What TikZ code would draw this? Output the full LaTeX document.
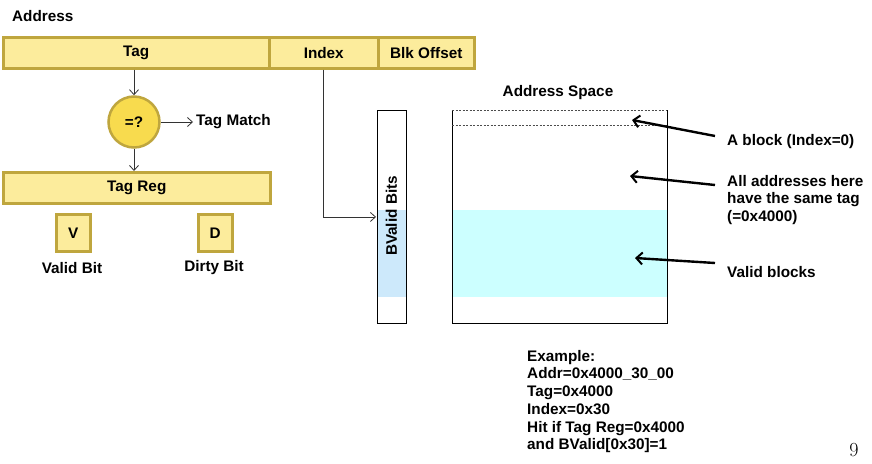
\documentclass[tikz,border=0pt]{standalone}
\usepackage{fontspec}
\setsansfont{Liberation Sans}
\usetikzlibrary{arrows.meta}
\definecolor{barfill}{HTML}{FCEC9C}
\definecolor{barline}{HTML}{BFA63E}
\definecolor{cmpfill}{HTML}{F8DB4E}
\definecolor{bvblue}{HTML}{CDE9FB}
\definecolor{validcyan}{HTML}{CCFFFF}
\tikzset{
  lbl/.style={font=\sffamily\bfseries\fontsize{15.3}{17.7}\selectfont, inner sep=0pt},
  bar/.style={lbl, draw=barline, fill=barfill, line width=2.5pt, anchor=north west},
  bitbox/.style={bar, minimum width=34pt, minimum height=37pt},
  thinarrow/.style={draw=black!80, line width=0.8pt, -{Straight Barb[length=5pt,width=9pt]}},
  pointer/.style={line width=2.4pt, -{Straight Barb[length=6pt,width=12pt,line width=2pt]}},
  plain/.style={draw=black, line width=0.9pt}
}
\begin{document}
\begin{tikzpicture}[x=1pt,y=-1pt]
\useasboundingbox (0,0) rectangle (872,463);

% address fields
\node[lbl, anchor=west] (addr) at (12,16) {Address};
\node[bar, minimum width=266pt, minimum height=31pt] (tag) at (2,36) {Tag};
\node[bar, minimum width=109pt, minimum height=31pt] (index) at (268,36) {Index};
\node[bar, minimum width=96pt, minimum height=31pt] (blk) at (377,36) {Blk Offset};

% comparator and tag register
\node[lbl, circle, draw=barline, fill=cmpfill, line width=2.5pt, minimum size=51pt] (cmp) at (134,122) {=?};
\node[lbl, anchor=west] (match) at (196,122) {Tag Match};
\node[bar, minimum width=267pt, minimum height=31pt] (tagreg) at (2,171) {Tag Reg};
\node[bitbox] (vbit) at (55,213) {V};
\node[bitbox] (dbit) at (197,213) {D};
\node[lbl] (vlbl) at (72,268) {Valid Bit};
\node[lbl] (dlbl) at (214,268) {Dirty Bit};

\draw[thinarrow] (tag.south -| cmp.north) -- (cmp.north);
\draw[thinarrow] (cmp.east) -- ([xshift=-3pt]match.west);
\draw[thinarrow] (cmp.south) -- (tagreg.north -| cmp.south);

% block valid bits
\fill[bvblue] (377,210) rectangle (406,297);
\node[plain, minimum width=29pt, minimum height=213pt, anchor=north west, inner sep=0pt] (bv) at (377,110) {};
\node[lbl, rotate=90] (bvlbl) at (391.5,216) {BValid Bits};
\draw[thinarrow] (index.south) |- ([xshift=-1pt]bv.west);

% address space
\node[lbl] (aslbl) at (558,93) {Address Space};
\fill[validcyan] (452,210) rectangle (668,297);
\coordinate (asnw) at (452,110);
\coordinate (asne) at (667,110);
\coordinate (assw) at (452,323);
\coordinate (asse) at (667,323);
\draw[plain] (asnw) -- (assw) -- (asse) -- (asne);
\draw[black!70, line width=0.9pt, dash pattern=on 2pt off 1.5pt] (asnw) -- (asne) (452,125) -- (667,125);

% annotations
\node[lbl, anchor=west] (ablock) at (727,142) {A block (Index=0)};
\node[lbl, anchor=north west, align=left] (same) at (727,175) {All addresses here\\have the same tag\\(=0x4000)};
\node[lbl, anchor=west] (vblocks) at (727,272) {Valid blocks};
\coordinate (blocktail) at (715,136);
\coordinate (sametail) at (715,185);
\coordinate (validtail) at (715,263);
\coordinate (blockpt) at (632,120);
\coordinate (samept) at (630,176);
\coordinate (validpt) at (635,258);
\draw[pointer] (blocktail) -- (blockpt);
\draw[pointer] (sametail) -- (samept);
\draw[pointer] (validtail) -- (validpt);

% worked example
\node[lbl, anchor=north west, align=left] (example) at (527,350) {Example:\\Addr=0x4000\_30\_00\\Tag=0x4000\\Index=0x30\\Hit if Tag Reg=0x4000\\and BValid[0x30]=1};
\node[font=\fontsize{20}{20}\selectfont, inner sep=0pt] (page) at (854,450) {9};
\end{tikzpicture}
\end{document}
